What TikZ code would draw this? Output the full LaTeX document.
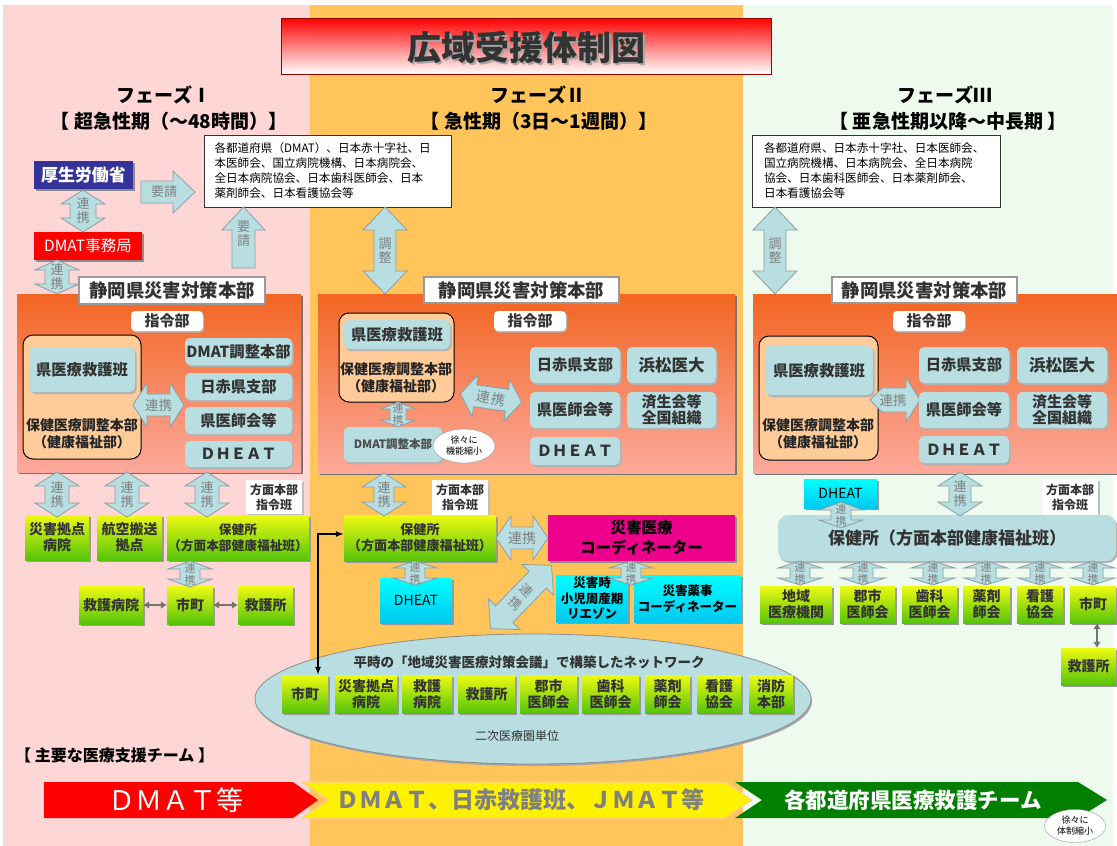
\documentclass[tikz,border=0pt]{standalone}
\usepackage{fontspec}
\setmainfont{Noto Sans CJK JP}
\usetikzlibrary{shadows,shapes.geometric,arrows.meta}

\definecolor{pinkbg}{HTML}{FFD6D6}
\definecolor{orangebg}{HTML}{FFC55A}
\definecolor{greenbg}{HTML}{EFFAEE}
\definecolor{hqtop}{HTML}{F26522}
\definecolor{hqbot}{HTML}{FCA99B}
\definecolor{paleblue}{HTML}{B8DEE2}
\definecolor{arrowline}{HTML}{8A9EA3}
\definecolor{navy}{HTML}{333399}
\definecolor{peach}{HTML}{FFCC99}
\definecolor{limetop}{HTML}{EEFA12}
\definecolor{limebot}{HTML}{55C40A}
\definecolor{cyantop}{HTML}{00FFFF}
\definecolor{cyanbot}{HTML}{00C8F0}
\definecolor{textgray}{HTML}{808080}
\definecolor{darktext}{HTML}{333333}
\definecolor{teamgreen}{HTML}{007F00}

\newcommand\fsz[2]{\fontsize{#1}{#2}\selectfont}
% box from corner to corner: [extra]{style}{name}{x1}{y1}{x2}{y2}{text}
\newcommand\bx[8][]{\node[#2,minimum width={(#6-#4)*1pt},minimum height={(#7-#5)*1pt},#1] (#3) at ({(#4+#6)/2},{(#5+#7)/2}) {#8};}
% fat double arrow: [text opts]{centre}{angle}{half length}{shaft}{head}{head length}{label}
\newcommand\dfat[8][]{%
  \draw[fat,shift={(#2)},rotate=#3] (-#4,0) -- ({-#4+#7},#6) -- ({-#4+#7},#5) -- ({#4-#7},#5) -- ({#4-#7},#6) -- (#4,0)
    -- ({#4-#7},-#6) -- ({#4-#7},-#5) -- ({-#4+#7},-#5) -- ({-#4+#7},-#6) -- cycle;
  \node[fattext,#1] at (#2) {#8};}
% fat single arrow
\newcommand\sfat[8][]{%
  \draw[fat,shift={(#2)},rotate=#3] (-#4,#5) -- ({#4-#7},#5) -- ({#4-#7},#6) -- (#4,0)
    -- ({#4-#7},-#6) -- ({#4-#7},-#5) -- (-#4,-#5) -- cycle;
  \node[fattext,#1] at (#2) {#8};}

\begin{document}
\begin{tikzpicture}[x=1pt,y=-1pt,every node/.style={inner sep=1pt},
  titlebar/.style={top color=red,middle color=white,bottom color=white,draw=red!60!black,line width=.8pt},
  titletext/.style={font=\bfseries\fsz{34}{36}},
  phase/.style={font=\bfseries\fsz{19}{21}},
  flag/.style={text=white,drop shadow={shadow xshift=2pt,shadow yshift=-2pt,fill=black!45,opacity=1}},
  orgs/.style={fill=white,draw=black!80,line width=.8pt,align=left,font=\fsz{11.6}{15}},
  hq/.style={top color=hqtop,bottom color=hqbot,drop shadow={shadow xshift=2pt,shadow yshift=-2pt,fill=black!55,opacity=1}},
  hqlabel/.style={fill=white,draw=black!40,line width=1.2pt,text=darktext,font=\bfseries\fsz{18.4}{20}},
  tab/.style={fill=white,rounded corners=4pt,text=darktext,font=\bfseries\fsz{15}{17},drop shadow={shadow xshift=1pt,shadow yshift=-1.5pt,fill=black!30,opacity=1}},
  coord/.style={fill=peach,draw=black,line width=1pt,rounded corners=10pt},
  coordtext/.style={text=black!85,align=center,font=\bfseries\fsz{14}{17}},
  unit/.style={fill=paleblue,rounded corners=5pt,text=darktext,align=center,font=\bfseries\fsz{15.3}{17},drop shadow={shadow xshift=1.5pt,shadow yshift=-2pt,fill=black!30,opacity=1}},
  lime/.style={top color=limetop,bottom color=limebot,text=darktext,align=center,font=\bfseries\fsz{14}{16},drop shadow={shadow xshift=2pt,shadow yshift=-2pt,fill=black!40,opacity=1}},
  aqua/.style={top color=cyantop,bottom color=cyanbot,text=black,align=center,font=\bfseries\fsz{12.5}{15.5},drop shadow={shadow xshift=2pt,shadow yshift=-2pt,fill=black!40,opacity=1}},
  magent/.style={fill=magenta,text=black,align=center,font=\bfseries\fsz{15.5}{20},drop shadow={shadow xshift=2pt,shadow yshift=-2pt,fill=black!45,opacity=1}},
  memo/.style={fill=white,align=center,text=darktext,font=\bfseries\fsz{12}{15},drop shadow={shadow xshift=1.5pt,shadow yshift=-1.5pt,fill=black!25,opacity=1}},
  bubble/.style={ellipse,fill=white,draw=black!40,align=center,font=\fsz{9}{11}},
  fat/.style={fill=paleblue,draw=arrowline,line width=.8pt},
  fattext/.style={text=textgray,align=center,font=\fsz{13}{14}},
  link/.style={{Latex[length=6pt,width=8pt]}-{Latex[length=6pt,width=8pt]},line width=2.2pt,draw=black!55},
  thinlink/.style={{Latex[length=8pt,width=6pt]}-{Latex[length=8pt,width=6pt]},line width=1.2pt}]
\useasboundingbox (0,0) rectangle (1117,846);

% backgrounds of the three phases
\fill[white] (0,0) rectangle (1117,846);
\fill[pinkbg] (3,5) rectangle (310,846);
\fill[orangebg] (310,5) rectangle (743,846);
\fill[greenbg] (743,5) rectangle (1113,846);

\bx{titlebar}{title}{281}{18}{771}{74}{}
\node[titletext,text=black!35] at (528,49) {広域受援体制図};
\node[titletext,text=black!80] (titleT) at (526,47) {広域受援体制図};

\node[phase] (ph1) at (164,95) {フェーズⅠ};
\node[phase] (ph1t) at (169,121) {【 超急性期（～48時間）】};
\node[phase] (ph2) at (538,95) {フェーズⅡ};
\node[phase] (ph2t) at (539,121) {【 急性期（3日～1週間）】};
\node[phase] (ph3) at (945,95) {フェーズⅢ};
\node[phase] (ph3t) at (948,121) {【 亜急性期以降～中長期 】};

% phase I
\bx[fill=navy,font=\bfseries\fsz{17}{19}]{flag}{mhlw}{34}{161}{133}{189}{厚生労働省}
\bx[fill=red,font=\fsz{15.5}{17}]{flag}{dmatoffice}{34}{232}{142}{260}{DMAT事務局}
\bx[text width=226pt]{orgs}{reqA}{204}{135}{451}{207}{各都道府県（DMAT）、日本赤十字社、日\\本医師会、国立病院機構、日本病院会、\\全日本病院協会、日本歯科医師会、日本\\薬剤師会、日本看護協会等}
\dfat{83,211}{90}{21}{13}{22}{14}{連\\携}
\dfat{57,277}{90}{17}{12}{22}{10}{連\\携}
\sfat[xshift=-4pt]{168,192}{0}{27}{11}{21}{22}{要請}
\sfat[yshift=4pt]{243.5,237.5}{90}{30.5}{11.5}{21.5}{23}{要\\請}

\bx{hq}{hqA}{17}{294}{301}{472}{}
\bx{hqlabel}{hqAl}{79}{277}{265}{304}{静岡県災害対策本部}
\bx{tab}{cmdA}{131}{311}{203}{331}{指令部}
\bx{coord}{coordA}{23}{335}{141}{459}{}
\bx{unit}{mrtA}{29}{347}{135}{392}{県医療救護班}
\node[coordtext] (hcA) at (82,434) {保健医療調整本部\\（健康福祉部）};
\dfat[font=\fsz{13.5}{15}]{158.5,405}{0}{25.5}{11}{22}{14}{連携}
\bx{unit}{dmathqA}{185}{338}{292}{365}{DMAT調整本部}
\bx{unit}{jrcA}{185}{373}{292}{400}{日赤県支部}
\bx{unit}{medA}{185}{407}{292}{434}{県医師会等}
\bx{unit}{dheatA}{185}{441}{292}{467}{ＤＨＥＡＴ}

\bx{memo}{subA}{246}{480}{302}{514}{方面本部\\指令班}
\bx{lime}{baseA}{25}{515}{89}{560}{災害拠点\\病院}
\bx{lime}{airA}{97}{515}{162}{560}{航空搬送\\拠点}
\bx[font=\bfseries\fsz{12.7}{16}]{lime}{hcenterA}{167}{515}{309}{560}{保健所\\（方面本部健康福祉班）}
\foreach \x in {57,127,207} {\dfat{\x,494.5}{90}{22.5}{12}{22}{14}{連\\携}}
\bx{lime}{rhospA}{79}{586}{143}{624}{救護病院}
\bx{lime}{townA}{167}{586}{213}{624}{市町}
\bx{lime}{aidA}{238}{586}{293}{624}{救護所}
\dfat[font=\fsz{11}{12}]{190,574}{90}{13}{10}{22}{8}{連\\携}
\draw[link] (rhospA) -- (townA);
\draw[link] (townA) -- (aidA);

% phase II
\dfat{385,250.5}{90}{43.5}{11}{22}{23}{調\\整}
\bx{hq}{hqB}{318}{294}{735}{473}{}
\bx{hqlabel}{hqBl}{424}{277}{619}{303}{静岡県災害対策本部}
\bx{tab}{cmdB}{494}{311}{566}{331}{指令部}
\bx{coord}{coordB}{339}{313}{454}{402}{}
\bx{unit}{mrtB}{344}{320}{450}{349}{県医療救護班}
\node[coordtext] (hcB) at (396,378) {保健医療調整本部\\（健康福祉部）};
\bx[font=\bfseries\fsz{11.5}{13},text=black!70]{unit}{dmathqB}{344}{427}{442}{462}{DMAT調整本部}
\dfat[font=\fsz{11}{12}]{398,414.5}{90}{12.5}{8}{17}{7}{連\\携}
\node[bubble,minimum width=62pt,minimum height=34pt] (shrinkB) at (464,446) {徐々に\\機能縮小};
\dfat[rotate=-12,font=\fsz{14}{15}]{491,398}{-8}{31}{11}{21}{15}{連\hspace{2pt}携}
\bx{unit}{jrcB}{530}{347}{620}{383}{日赤県支部}
\bx[font=\bfseries\fsz{16.5}{18}]{unit}{hamaB}{627}{347}{716}{383}{浜松医大}
\bx{unit}{medB}{530}{392}{620}{428}{県医師会等}
\bx[font=\bfseries\fsz{15}{16}]{unit}{saiB}{627}{392}{716}{428}{済生会等\\全国組織}
\bx{unit}{dheatB}{530}{437}{620}{465}{ＤＨＥＡＴ}

\bx{memo}{subB}{432}{480}{488}{515}{方面本部\\指令班}
\bx[font=\bfseries\fsz{13.1}{16}]{lime}{hcenterB}{344}{515}{496}{561}{保健所\\（方面本部健康福祉班）}
\bx{magent}{coordinatorB}{548}{515}{735}{561}{災害医療\\コーディネーター}
\bx[font=\fsz{14}{16}]{aqua}{dheatB2}{380}{578}{452}{623}{DHEAT}
\bx{aqua}{liaisonB}{556}{575}{628}{622}{災害時\\小児周産期\\リエゾン}
\bx{aqua}{pharmB}{634}{575}{741}{622}{災害薬事\\コーディネーター}
\dfat{384,494.5}{90}{21.5}{10}{22}{14}{連\\携}
\dfat[font=\fsz{14}{15}]{522,538}{0}{26}{11}{22}{15}{連携}
\dfat[font=\fsz{11}{12}]{415,573}{90}{12}{10}{22}{7}{連\\携}
\dfat[font=\fsz{11}{12}]{631,573}{90}{12}{10}{22}{7}{連\\携}
\dfat[rotate=-44,font=\fsz{13}{17}]{521,597}{46}{44}{12}{22}{20}{連\\携}

% network of the secondary medical area
\node[ellipse,fill=paleblue,draw=black!45,line width=.8pt,minimum width=556pt,minimum height=130pt,drop shadow={shadow xshift=1pt,shadow yshift=-2pt,fill=black!35,opacity=1}] (net) at (533,699) {};
\node[text=darktext,font=\bfseries\fsz{13.5}{15}] (netT) at (529,662) {平時の「地域災害医療対策会議」で構築したネットワーク};
\bx{lime}{n1}{282}{675}{328}{713}{市町}
\bx{lime}{n2}{335}{675}{397}{713}{災害拠点\\病院}
\bx{lime}{n3}{402}{675}{452}{713}{救護\\病院}
\bx{lime}{n4}{458}{675}{515}{713}{救護所}
\bx{lime}{n5}{520}{675}{577}{713}{郡市\\医師会}
\bx{lime}{n6}{582}{675}{639}{713}{歯科\\医師会}
\bx{lime}{n7}{645}{675}{690}{713}{薬剤\\師会}
\bx{lime}{n8}{697}{675}{741}{713}{看護\\協会}
\bx{lime}{n9}{749}{675}{793}{713}{消防\\本部}
\node[text=darktext,font=\fsz{12}{14}] (netU) at (517,736) {二次医療圏単位};
\draw[thinlink] ([xshift=13pt]n1.north) |- ([yshift=4pt]hcenterB.west);

% phase III
\bx[text width=224pt]{orgs}{reqC}{752}{135}{1000}{207}{各都道府県、日本赤十字社、日本医師会、\\国立病院機構、日本病院会、全日本病院\\協会、日本歯科医師会、日本薬剤師会、\\日本看護協会等}
\dfat{775,250.5}{90}{43.5}{11}{22}{23}{調\\整}
\bx{hq}{hqC}{753}{294}{1117}{473}{}
\bx{hqlabel}{hqCl}{832}{277}{1017}{303}{静岡県災害対策本部}
\bx{tab}{cmdC}{893}{311}{965}{331}{指令部}
\bx{coord}{coordC}{759}{336}{878}{460}{}
\bx{unit}{mrtC}{765}{346}{873}{395}{県医療救護班}
\node[coordtext] (hcC) at (818,434) {保健医療調整本部\\（健康福祉部）};
\draw[fat] (870,400) -- (882,388) -- (906,388) -- (906,378) -- (920,400) -- (906,422) -- (906,412) -- (882,412) -- cycle;
\node[fattext,font=\fsz{13.5}{15}] (linkC) at (893,400) {連携};
\bx{unit}{jrcC}{919}{347}{1009}{383}{日赤県支部}
\bx[font=\bfseries\fsz{16.5}{18}]{unit}{hamaC}{1017}{347}{1107}{383}{浜松医大}
\bx{unit}{medC}{919}{392}{1009}{428}{県医師会等}
\bx[font=\bfseries\fsz{15}{16}]{unit}{saiC}{1017}{392}{1107}{428}{済生会等\\全国組織}
\bx{unit}{dheatC}{919}{436}{1009}{463}{ＤＨＥＡＴ}

\bx[font=\fsz{14}{16}]{aqua}{dheatC2}{804}{479}{877}{508}{DHEAT}
\bx{memo}{subC}{1042}{479}{1098}{516}{方面本部\\指令班}
\bx[rounded corners=10pt,font=\bfseries\fsz{17}{19}]{unit}{hcenterC}{778}{515}{1116}{561}{保健所（方面本部健康福祉班）}
\dfat{960,494}{90}{22}{11}{22}{14}{連\\携}
\dfat[font=\fsz{11}{12}]{841,515}{90}{13}{10}{22}{8}{連\\携}
\bx{lime}{c1}{760}{586}{832}{623}{地域\\医療機関}
\bx{lime}{c2}{840}{586}{895}{623}{郡市\\医師会}
\bx{lime}{c3}{902}{586}{957}{623}{歯科\\医師会}
\bx{lime}{c4}{963}{586}{1010}{623}{薬剤\\師会}
\bx{lime}{c5}{1017}{586}{1063}{623}{看護\\協会}
\bx{lime}{c6}{1070}{586}{1116}{623}{市町}
\bx{lime}{c7}{1061}{648}{1116}{685}{救護所}
\foreach \x in {800,863,933,986,1040,1093} {\dfat[font=\fsz{11}{12}]{\x,573}{90}{12}{10}{22}{7}{連\\携}}
\draw[link] ([xshift=4pt]c6.south) -- ([xshift=8.5pt]c7.north);

% main medical support teams
\node[anchor=west,font=\bfseries\fsz{16}{18}] (teams) at (14,755) {【 主要な医療支援チーム 】};
\fill[red] (44,782) -- (293,782) -- (318,800) -- (293,818) -- (44,818) -- cycle;
\fill[yellow,draw=orange!40,line width=1pt] (302,782) -- (725,782) -- (752,800) -- (725,818) -- (302,818) -- (328,800) -- cycle;
\fill[teamgreen] (735,782) -- (1078,782) -- (1107,800) -- (1078,818) -- (735,818) -- (762,800) -- cycle;
\node[text=white,font=\fsz{27}{28}] (teamA) at (176,800) {ＤＭＡＴ等};
\node[text=textgray,font=\bfseries\fsz{23}{24}] (teamB) at (520,800) {ＤＭＡＴ、日赤救護班、ＪＭＡＴ等};
\node[text=white,font=\bfseries\fsz{21.5}{23}] (teamC) at (913,800) {各都道府県医療救護チーム};
\node[bubble,minimum width=61pt,minimum height=33pt] (shrinkC) at (1075,826) {徐々に\\体制縮小};
\end{tikzpicture}
\end{document}
